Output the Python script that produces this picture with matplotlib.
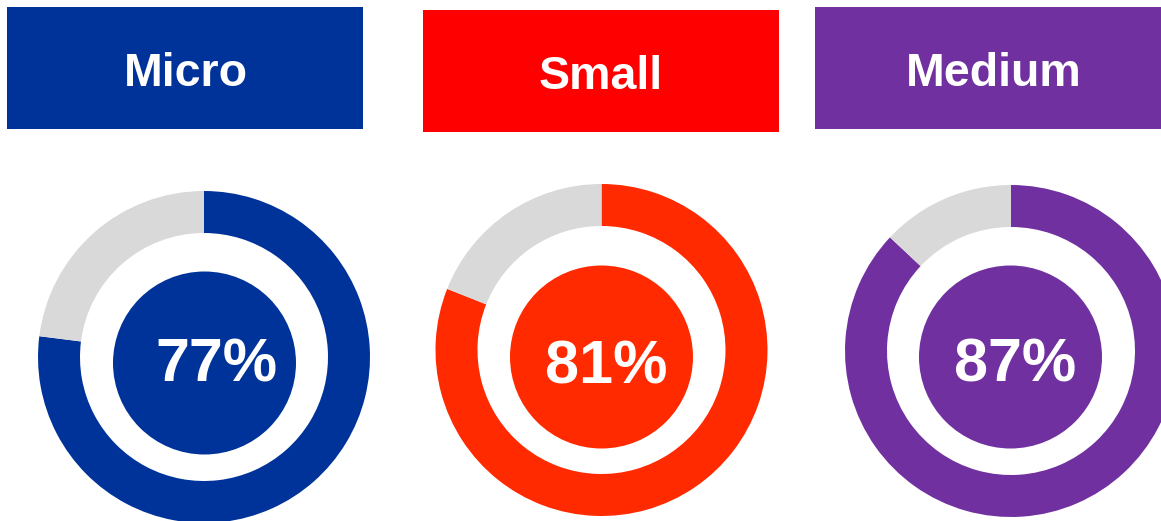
import matplotlib.pyplot as plt
from matplotlib.patches import Rectangle, Circle

# segment labels and share of firms (%)
labels = ['Micro', 'Small', 'Medium']
shares = [77, 81, 87]
header_colors = ['#003399', '#FF0000', '#7030A0']
ring_colors = ['#003399', '#FF2A00', '#7030A0']
rest_color = '#D9D9D9'

W, H = 1161, 521

# layout in pixel coordinates (y measured from top)
boxes = [(7, 7, 356, 122), (423, 10, 356, 122), (815, 7, 360, 122)]
label_pos = [(186, 86), (601, 89), (994, 86)]
ring_centers = [(204, 357), (601.5, 350), (1011, 351)]
disc_centers = [(204.5, 363), (601.5, 357), (1010.5, 357)]
pct_pos = [(216, 381.5), (606.5, 383), (1015, 381.5)]
R_OUT, RING_W, R_DISC = 166, 42, 91.5

plt.rcParams['font.family'] = ['Liberation Sans', 'DejaVu Sans']

fig = plt.figure(figsize=(W / 100, H / 100), dpi=100)
ax = fig.add_axes([0, 0, 1, 1])

for i, lab in enumerate(labels):
    bx, by, bw, bh = boxes[i]
    ax.add_patch(Rectangle((bx, H - by - bh), bw, bh, color=header_colors[i], lw=0))
    tx, ty = label_pos[i]
    ax.text(tx, H - ty, lab, color='white', fontsize=33.5, fontweight='bold',
            ha='center', va='baseline')

    cx, cy = ring_centers[i]
    ax.pie([shares[i], 100 - shares[i]], colors=[ring_colors[i], rest_color],
           startangle=90, counterclock=False, radius=R_OUT, center=(cx, H - cy),
           wedgeprops=dict(width=RING_W, linewidth=0), frame=True)

    dx, dy = disc_centers[i]
    ax.add_patch(Circle((dx, H - dy), R_DISC, color=ring_colors[i], lw=0))
    px, py = pct_pos[i]
    ax.text(px, H - py, f'{shares[i]}%', color='white', fontsize=44,
            fontweight='bold', ha='center', va='baseline')

ax.set_xlim(0, W)
ax.set_ylim(0, H)
ax.set_aspect('auto')
ax.axis('off')

fig.savefig('out.png', dpi=100, facecolor='white')
